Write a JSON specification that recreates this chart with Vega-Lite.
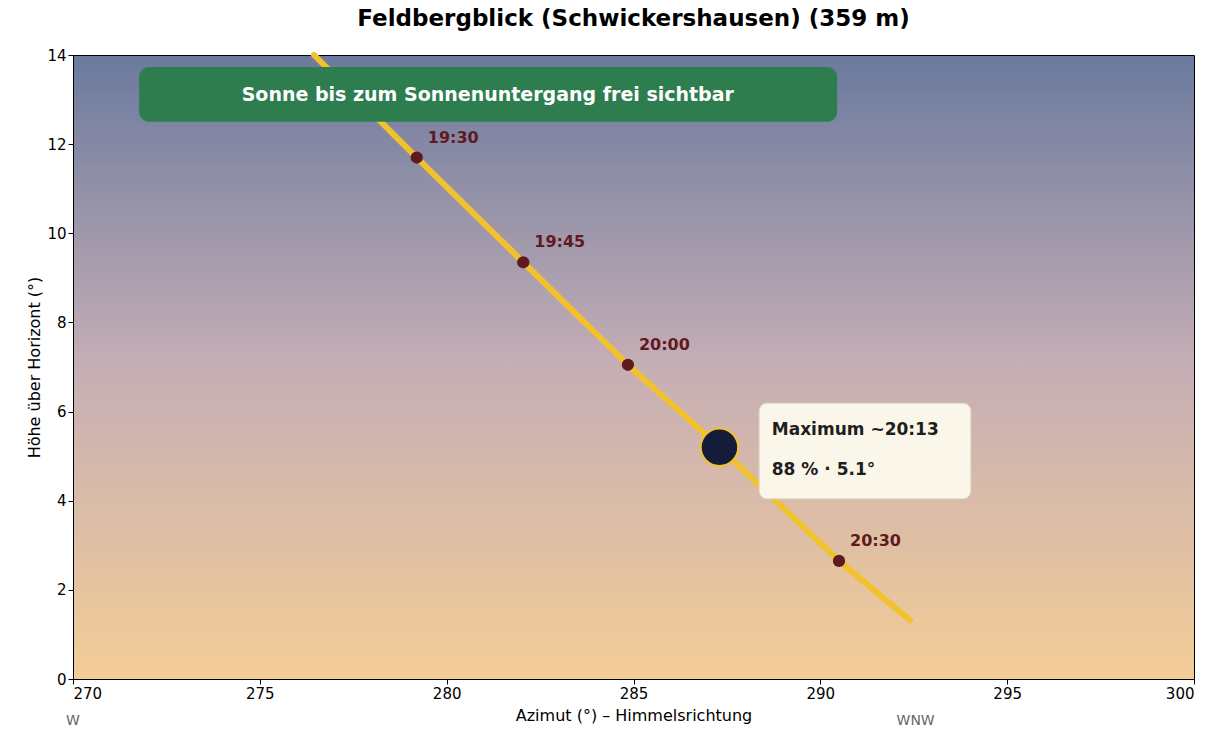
{
  "$schema": "https://vega.github.io/schema/vega-lite/v6.json",
  "width": 1121,
  "height": 624,
  "autosize": {"type": "pad"},
  "padding": {"left": 26, "top": 8, "right": 5, "bottom": 5},
  "title": {"text": "Feldbergblick (Schwickershausen)  (359 m)", "fontSize": 23, "font": "DejaVu Sans", "fontWeight": "bold", "color": "#000000", "offset": 12},
  "config": {
    "font": "DejaVu Sans",
    "view": {"stroke": "#000000", "strokeWidth": 1, "fill": {"gradient": "linear", "x1": 0, "y1": 0, "x2": 0, "y2": 1, "stops": [{"offset": 0, "color": "#6b7a9e"}, {"offset": 0.5, "color": "#c6aeb5"}, {"offset": 1, "color": "#f3cd96"}]}},
    "axis": {"grid": false, "domain": false, "labelFontSize": 15, "titleFontSize": 16, "titleFontWeight": "normal", "labelColor": "#000000", "titleColor": "#000000", "tickColor": "#000000", "labelFont": "DejaVu Sans", "titleFont": "DejaVu Sans"}
  },
  "datasets": {
    "path": [{"az": 276.45, "alt": 14.0}, {"az": 279.2, "alt": 11.7}, {"az": 282.05, "alt": 9.35}, {"az": 284.85, "alt": 7.05}, {"az": 287.3, "alt": 5.2}, {"az": 290.5, "alt": 2.65}, {"az": 292.4, "alt": 1.32}],
    "ticks": [{"az": 279.2, "alt": 11.7, "t": "19:30"}, {"az": 282.05, "alt": 9.35, "t": "19:45"}, {"az": 284.85, "alt": 7.05, "t": "20:00"}, {"az": 290.5, "alt": 2.65, "t": "20:30"}]
  },
  "layer": [
    {
      "data": {"name": "path"},
      "mark": {"type": "line", "color": "#f2c12e", "strokeWidth": 6, "strokeCap": "round"},
      "encoding": {
        "x": {"field": "az", "type": "quantitative", "scale": {"domain": [270, 300], "nice": false}, "axis": {"values": [270, 275, 280, 285, 290, 295, 300], "title": "Azimut (°)  –  Himmelsrichtung", "titlePadding": 6}},
        "y": {"field": "alt", "type": "quantitative", "scale": {"domain": [0, 14], "nice": false}, "axis": {"values": [0, 2, 4, 6, 8, 10, 12, 14], "title": "Höhe über Horizont (°)"}}
      }
    },
    {
      "data": {"name": "ticks"},
      "mark": {"type": "circle", "size": 150, "color": "#5e1a1e", "opacity": 1},
      "encoding": {"x": {"field": "az", "type": "quantitative"}, "y": {"field": "alt", "type": "quantitative"}}
    },
    {
      "data": {"name": "ticks"},
      "mark": {"type": "text", "align": "left", "dx": 11, "dy": -20, "fontSize": 16, "fontWeight": "bold", "color": "#5e1a1e"},
      "encoding": {"x": {"field": "az", "type": "quantitative"}, "y": {"field": "alt", "type": "quantitative"}, "text": {"field": "t"}}
    },
    {
      "data": {"values": [{"az": 287.3, "alt": 5.2}]},
      "mark": {"type": "circle", "size": 1400, "color": "#141c3a", "stroke": "#f2c12e", "strokeWidth": 2, "opacity": 1},
      "encoding": {"x": {"field": "az", "type": "quantitative"}, "y": {"field": "alt", "type": "quantitative"}}
    },
    {
      "data": {"values": [{"x1": 271.77, "x2": 290.45, "y1": 12.5, "y2": 13.73}]},
      "mark": {"type": "rect", "color": "#2e7d4f", "cornerRadius": 10, "opacity": 1},
      "encoding": {"x": {"field": "x1", "type": "quantitative"}, "x2": {"field": "x2"}, "y": {"field": "y1", "type": "quantitative"}, "y2": {"field": "y2"}}
    },
    {
      "data": {"values": [{"x": 281.1, "y": 13.11, "t": "Sonne bis zum Sonnenuntergang frei sichtbar"}]},
      "mark": {"type": "text", "fontSize": 19, "fontWeight": "bold", "color": "#ffffff", "baseline": "middle"},
      "encoding": {"x": {"field": "x", "type": "quantitative"}, "y": {"field": "y", "type": "quantitative"}, "text": {"field": "t"}}
    },
    {
      "data": {"values": [{"x1": 288.36, "x2": 294.03, "y1": 4.04, "y2": 6.19}]},
      "mark": {"type": "rect", "color": "#fbf6ea", "stroke": "#d8d0c0", "strokeWidth": 1, "cornerRadius": 8, "opacity": 1},
      "encoding": {"x": {"field": "x1", "type": "quantitative"}, "x2": {"field": "x2"}, "y": {"field": "y1", "type": "quantitative"}, "y2": {"field": "y2"}}
    },
    {
      "data": {"values": [{"x": 288.7, "y": 5.58, "t": "Maximum ~20:13"}, {"x": 288.7, "y": 4.68, "t": "88 % · 5.1°"}]},
      "mark": {"type": "text", "align": "left", "baseline": "middle", "fontSize": 17, "fontWeight": "bold", "color": "#1e1e1e"},
      "encoding": {"x": {"field": "x", "type": "quantitative"}, "y": {"field": "y", "type": "quantitative"}, "text": {"field": "t"}}
    },
    {
      "data": {"values": [{"x": 270, "y": -0.95, "t": "W"}, {"x": 292.55, "y": -0.95, "t": "WNW"}]},
      "mark": {"type": "text", "align": "center", "baseline": "middle", "fontSize": 14, "color": "#666666"},
      "encoding": {"x": {"field": "x", "type": "quantitative"}, "y": {"field": "y", "type": "quantitative"}, "text": {"field": "t"}}
    }
  ]
}
